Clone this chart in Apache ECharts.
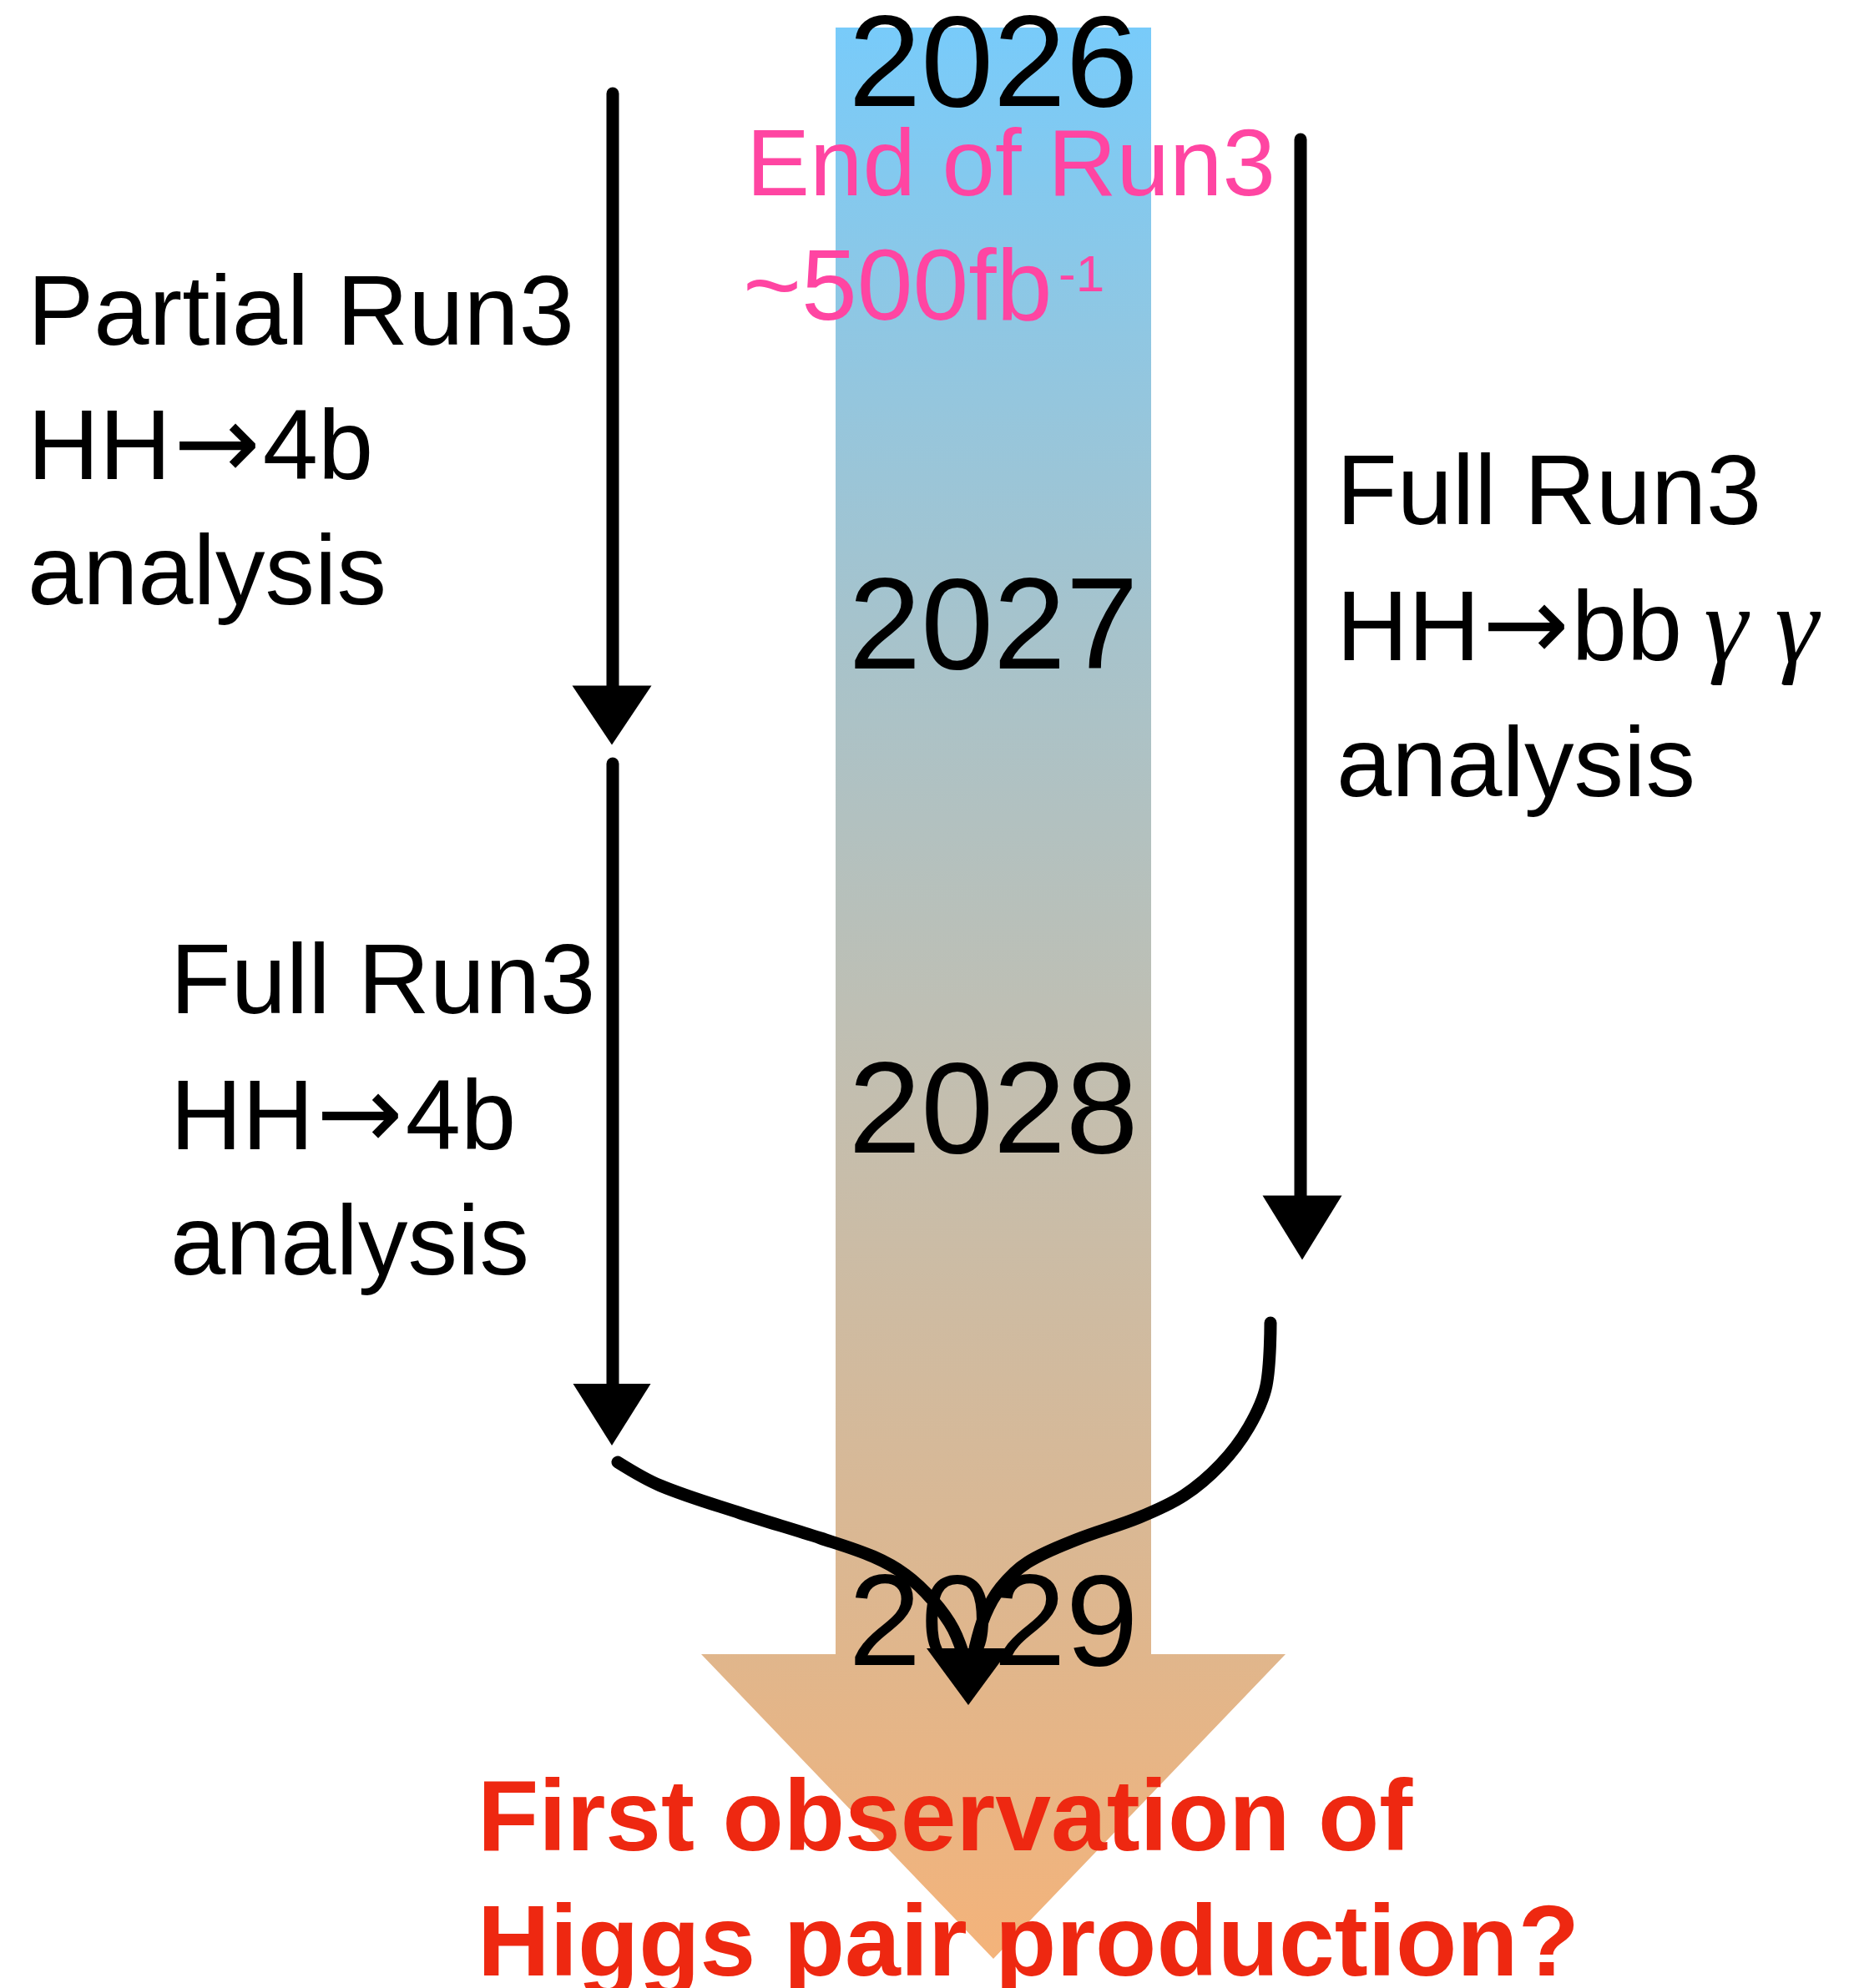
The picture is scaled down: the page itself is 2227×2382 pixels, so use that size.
<!DOCTYPE html>
<html>
<head>
<meta charset="utf-8">
<script src="https://cdn.jsdelivr.net/npm/echarts@6/dist/echarts.min.js"></script>
<style>
    html, body { margin: 0; padding: 0; background: #fff; }
    #chart { width: 2227px; height: 2382px; }
</style>
</head>
<body>
<div id="chart"></div>
<script>
// timeline years down the band
const years = ['2026', '2027', '2028', '2029']
const yearY = [84, 758, 1338, 1952]

// outline of the gradient band + big arrow head
const bandOutline = [
    [1001, 33], [1379, 33], [1379, 1982], [1540, 1982],
    [1190, 2347], [840, 1982], [1001, 1982],
]

// analysis step labels (one entry per line)
const stepLines = [
    'Partial Run3', 'HH{ar|→}4b', 'analysis',
    'Full Run3', 'HH{ar|→}4b', 'analysis',
    'Full Run3', 'HH{ar|→}bb{g|γ γ}', 'analysis',
]
const stepAnchors = [
    [33, 380], [33, 541], [33, 691],
    [204, 1181], [204, 1344], [204, 1494],
    [1601, 595], [1601, 758], [1601, 921],
]

// pink note near the top
const noteLines = ['End of Run3', '~500fb']
const noteSizes = [114, 120]
const noteAnchors = [[894, 203], [890, 350]]
const noteSup = ['-1']
const noteSupAnchors = [[1268, 332]]

// red conclusion at the bottom
const goalLines = ['First observation of', 'Higgs pair production?']
const goalAnchors = [[572, 2184], [572, 2334]]

// hand drawn arrows
const partialShaft = [[734, 112], [734, 828]]
const fullShaft = [[734, 915], [734, 1664]]
const bbggShaft = [[1558, 167], [1558, 1440]]
const leftMerge = [
    [740, 1752], [791, 1780], [887, 1813], [983, 1843], [1046, 1865],
    [1085, 1887], [1117, 1917], [1142, 1952], [1158, 1995],
]
const rightMerge = [
    [1522, 1585], [1517, 1660], [1496, 1710], [1462, 1755], [1418, 1792],
    [1365, 1818], [1289, 1845], [1231, 1872], [1199, 1902], [1180, 1935],
    [1168, 1975],
]
const arrowHeads = [[733, 857], [733, 1695], [1560, 1471], [1160, 2009]]
const arrowHeadSizes = [[95, 71], [93, 74], [95, 77], [100, 68]]

const FONT = '"Liberation Sans", Arial, Helvetica, sans-serif'

function stroke(points) {
    return {
        type: 'line',
        data: points,
        smooth: 0.35,
        symbol: 'none',
        clip: false,
        z: 6,
        lineStyle: { color: '#000', width: 15, cap: 'round', join: 'round', opacity: 1 },
    }
}

function textSeries(lines, anchors, label, z, sizes) {
    return {
        type: 'scatter',
        symbolSize: 0,
        clip: false,
        z: z || 3,
        itemStyle: { opacity: 1 },
        data: lines.map((t, i) => {
            const item = { name: t, value: anchors[i] }
            if (sizes) item.label = { fontSize: sizes[i] }
            return item
        }),
        label: Object.assign(
            {
                show: true,
                position: [0, 0],
                formatter: '{b}',
                verticalAlign: 'middle',
                fontFamily: FONT,
            },
            label
        ),
    }
}

const chart = echarts.init(document.getElementById('chart'))

chart.setOption({
    backgroundColor: '#fff',
    animation: false,
    grid: { left: 0, right: 0, top: 0, bottom: 0 },
    xAxis: { type: 'value', min: 0, max: 2227, show: false },
    yAxis: { type: 'value', min: 0, max: 2382, inverse: true, show: false },
    series: [
        {
            type: 'custom',
            z: 1,
            clip: false,
            data: [[1190, 1000]],
            renderItem(params, api) {
                return {
                    type: 'polygon',
                    shape: { points: bandOutline.map((p) => api.coord(p)) },
                    style: {
                        fill: new echarts.graphic.LinearGradient(0, 0, 0, 1, [
                            { offset: 0, color: '#78CBFA' },
                            { offset: 0.31, color: '#A6C3CC' },
                            { offset: 0.56, color: '#C4BEAE' },
                            { offset: 0.84, color: '#E0B68C' },
                            { offset: 1, color: '#F4B37A' },
                        ]),
                    },
                }
            },
        },
        textSeries(
            years,
            yearY.map((y) => [1190, y]),
            { align: 'center', fontSize: 156, color: '#000' },
            3
        ),
        textSeries(stepLines, stepAnchors, {
            align: 'left',
            fontSize: 119,
            color: '#000',
            rich: {
                ar: {
                    fontFamily: '"DejaVu Sans", sans-serif',
                    fontSize: 124,
                    color: '#000',
                    padding: [0, 3, 0, 3],
                },
                g: {
                    fontFamily: '"Liberation Serif", "DejaVu Serif", serif',
                    fontStyle: 'italic',
                    fontSize: 132,
                    color: '#000',
                    padding: [0, 0, 0, 26],
                },
            },
        }),
        textSeries(noteLines, noteAnchors, {
            align: 'left',
            fontSize: 114,
            color: '#FF45A2',
        }, 4, noteSizes),
        textSeries(noteSup, noteSupAnchors, {
            align: 'left',
            fontSize: 62,
            color: '#FF45A2',
        }, 4),
        textSeries(goalLines, goalAnchors, {
            align: 'left',
            fontSize: 120,
            fontWeight: 'bold',
            color: '#EE2811',
        }, 4),
        stroke(partialShaft),
        stroke(fullShaft),
        stroke(bbggShaft),
        stroke(leftMerge),
        stroke(rightMerge),
        {
            type: 'scatter',
            symbol: 'triangle',
            symbolRotate: 180,
            clip: false,
            z: 6,
            data: arrowHeads.map((p, i) => ({ value: p, symbolSize: arrowHeadSizes[i] })),
            itemStyle: { color: '#000', opacity: 1 },
        },
    ],
})
</script>
</body>
</html>
